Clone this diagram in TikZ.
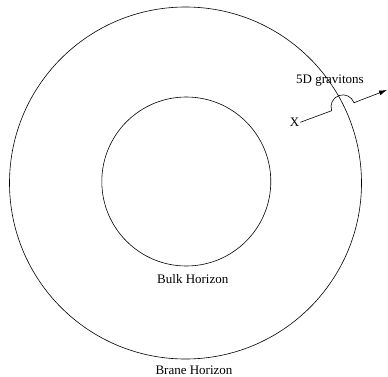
\documentclass[tikz,border=0pt]{standalone}
\usepackage{fontspec}
\setmainfont{Liberation Serif}
\usetikzlibrary{positioning, arrows.meta}
\tikzset{
    x=1pt, y=1pt, % picture drawn in points
    horizon/.style={draw, line width=0.6pt}, % the two circles
    lbl/.style={inner sep=0pt, font=\fontsize{13}{15}\selectfont}, % text labels
    path/.style={line width=0.6pt, -{Latex[length=8pt,width=5pt]}}, % graviton path
}

\begin{document}
\begin{tikzpicture}
            \useasboundingbox (0,0) rectangle (388,376);

            \draw[horizon] (185.5,193) circle (176);
            \draw[horizon] (186.3,194.5) circle (84.5);

            \node[lbl, anchor=base] (BULK) at (192.8,92.7) {Bulk Horizon};
            \node[lbl, anchor=base] (BRANE) at (194,1.5) {Brane Horizon};
            \node[lbl, anchor=base west] (GRAV) at (296,293) {5D gravitons};
            \node[lbl, anchor=base, inner sep=1pt] (X) at (294.5,249.5) {X};

            \coordinate (JUMP) at (331.7,265.3);
            \coordinate (TIP) at (387,286);

            \draw[path] (X.east) -- (JUMP)
                arc[start angle=199.7, end angle=19.7, radius=11.85] -- (TIP);

        \end{tikzpicture}
\end{document}
